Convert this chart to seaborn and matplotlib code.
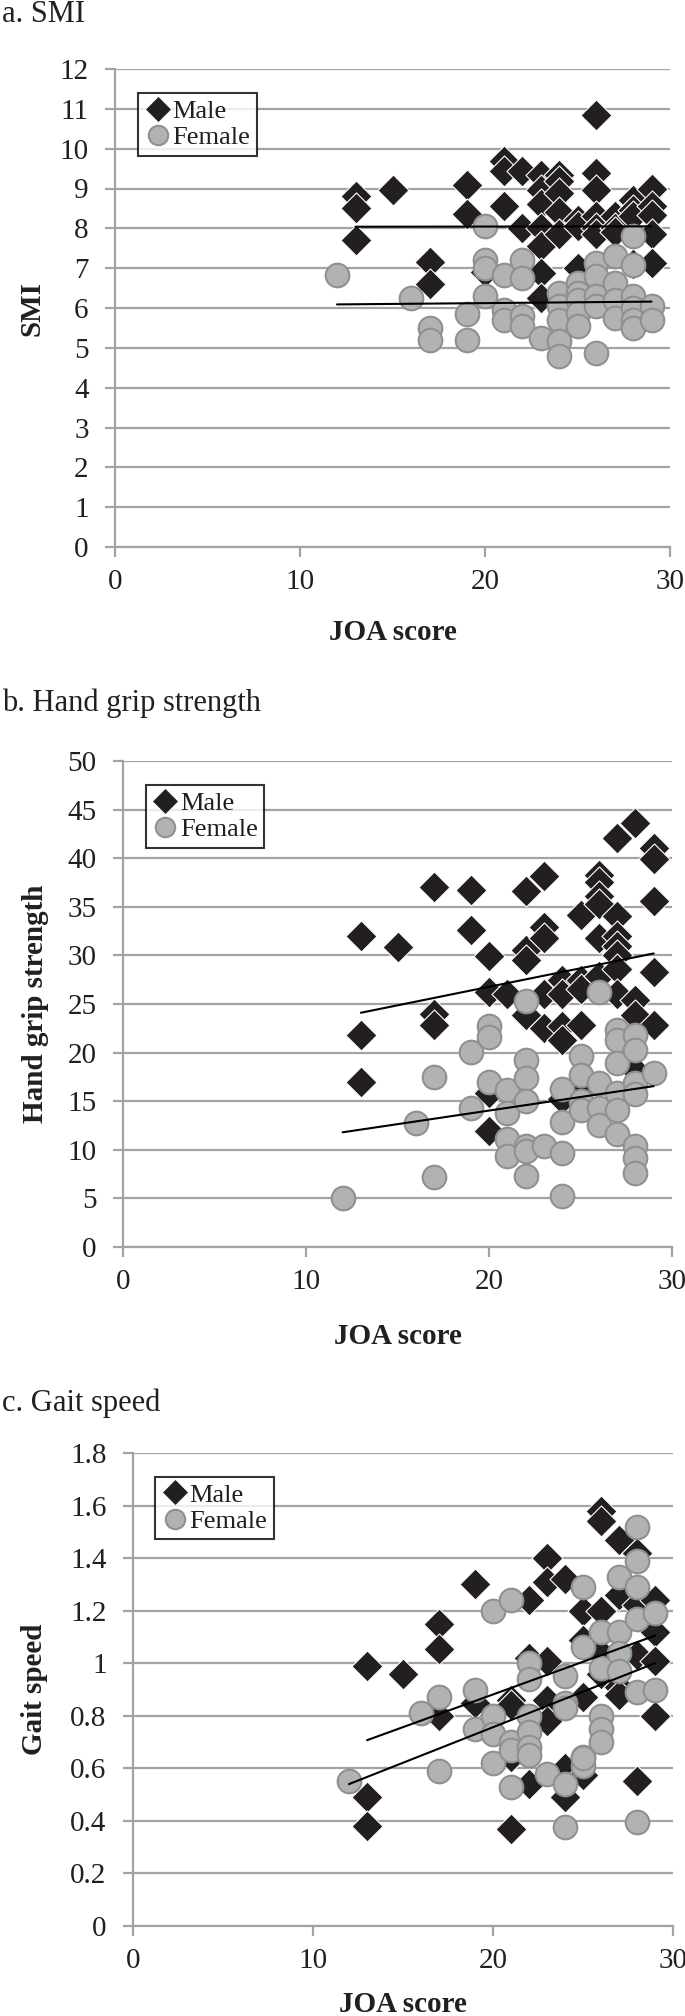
import numpy as np
import pandas as pd
import seaborn as sns
import matplotlib.pyplot as plt
from matplotlib.lines import Line2D

# ---- data (JOA score vs outcome, by sex) ----
# a. SMI
smi_male_joa = [13, 13, 13, 15, 17, 17, 19, 19, 20, 21, 21, 21, 22, 22,
                23, 23, 23, 23, 23, 23, 23, 24, 24, 24, 24, 24, 25, 25, 25,
                26, 26, 26, 26, 26, 26, 27, 27, 27, 28, 28, 28, 28,
                29, 29, 29, 29, 29]
smi_male = [8.8, 8.5, 7.7, 8.95, 7.15, 6.6, 9.1, 8.35, 6.9, 9.7, 9.45, 8.55, 9.45, 8.0,
            9.35, 8.95, 8.6, 8.0, 7.55, 6.88, 6.25, 9.35, 9.2, 8.88, 8.4, 7.85, 8.2, 8.05, 7.0,
            10.85, 9.4, 8.95, 8.3, 8.0, 7.85, 8.3, 8.0, 7.9, 8.7, 8.45, 8.3, 7.1,
            9.0, 8.55, 8.33, 7.85, 7.12]
smi_female_joa = [12, 16, 17, 17, 19, 19, 20, 20, 20, 20, 21, 21, 21, 22, 22, 22, 22,
                  23, 24, 24, 24, 24, 24, 25, 25, 25, 25, 25, 26, 26, 26, 26, 26,
                  27, 27, 27, 27, 28, 28, 28, 28, 28, 28, 29, 29]
smi_female = [6.82, 6.25, 5.5, 5.2, 5.86, 5.2, 8.06, 7.2, 7.0, 6.29, 6.83, 5.95, 5.7,
              7.2, 6.75, 5.8, 5.55, 5.25, 6.38, 6.04, 5.7, 5.17, 4.79,
              6.62, 6.38, 6.2, 5.88, 5.55, 7.12, 6.8, 6.3, 6.04, 4.87,
              7.3, 6.62, 6.2, 5.75, 7.8, 7.08, 6.3, 6.0, 5.7, 5.5, 6.04, 5.7]

# b. Hand grip strength
hgs_male_joa = [13, 13, 13, 15, 17, 17, 17, 19, 19, 20, 20, 20, 20, 21,
                22, 22, 22, 22, 23, 23, 23, 23, 23, 24, 24, 24, 24, 24,
                25, 25, 25, 25, 25, 26, 26, 26, 26, 26, 26,
                27, 27, 27, 27, 27, 27, 27, 28, 28, 28, 28, 29, 29, 29, 29, 29]
hgs_male = [32.0, 21.8, 17.0, 30.9, 37.0, 24.0, 22.8, 36.7, 32.6, 29.9, 26.2, 15.8, 11.9, 26.0,
            36.6, 30.6, 29.5, 23.9, 38.2, 32.9, 31.8, 26.0, 22.5, 27.5, 26.0, 22.7, 21.3, 15.2,
            34.2, 27.5, 26.5, 22.8, 16.3, 38.3, 37.6, 36.1, 35.3, 31.8, 27.9,
            42.1, 34.1, 32.0, 31.0, 30.0, 28.6, 26.0, 43.6, 25.4, 23.9, 18.2,
            41.0, 39.9, 35.6, 28.3, 22.8]
hgs_female_joa = [12, 16, 17, 17, 19, 19, 20, 20, 20, 21, 21, 21, 21,
                  22, 22, 22, 22, 22, 22, 22, 23, 24, 24, 24, 24, 25, 25, 25, 25,
                  26, 26, 26, 26, 27, 27, 27, 27, 27, 27, 28, 28, 28, 28, 28, 28, 28, 29]
hgs_female = [5.0, 12.8, 17.5, 7.2, 20.1, 14.3, 22.7, 21.6, 17.0, 16.2, 13.8, 11.1, 9.4,
              25.3, 19.2, 17.4, 15.0, 10.4, 9.9, 7.3, 10.4, 16.3, 12.9, 9.7, 5.2,
              19.6, 17.7, 15.0, 14.1, 26.2, 16.9, 14.3, 12.6,
              22.3, 21.3, 18.9, 15.8, 14.1, 11.6, 21.8, 20.3, 16.9, 15.7, 10.4, 9.2, 7.6, 17.9]

# c. Gait speed
gs_male_joa = [13, 13, 13, 15, 17, 17, 17, 19, 19, 21, 21, 21, 21, 22, 22, 22,
               23, 23, 23, 23, 23, 24, 24, 24, 25, 25, 25, 25, 26, 26, 26, 26, 26,
               27, 27, 27, 27, 28, 28, 28, 28, 29, 29, 29, 29]
gs_male = [0.99, 0.49, 0.38, 0.96, 1.15, 1.055, 0.80, 1.30, 0.85, 0.86, 0.84, 0.645, 0.37,
           1.24, 1.02, 0.54, 1.40, 1.31, 1.01, 0.86, 0.78, 1.32, 0.60, 0.49,
           1.20, 1.09, 0.87, 0.575, 1.58, 1.54, 1.20, 1.04, 0.96,
           1.47, 1.26, 0.91, 0.88, 1.42, 1.22, 1.03, 0.55, 1.24, 1.12, 1.01, 0.80]
gs_female_joa = [12, 16, 17, 17, 19, 19, 20, 20, 20, 20, 21, 21, 21, 21,
                 22, 22, 22, 22, 22, 22, 23, 24, 24, 24, 24, 24, 25, 25, 25, 25, 25,
                 26, 26, 26, 26, 26, 27, 27, 27, 27, 28, 28, 28, 28, 28, 28, 29, 29]
gs_female = [0.55, 0.81, 0.87, 0.59, 0.90, 0.75, 1.20, 0.80, 0.73, 0.62, 1.24, 0.70, 0.67, 0.53,
             1.0, 0.94, 0.80, 0.74, 0.68, 0.65, 0.58, 0.95, 0.85, 0.83, 0.54, 0.375,
             1.29, 1.06, 0.645, 0.61, 0.64, 1.12, 0.98, 0.80, 0.75, 0.70,
             1.33, 1.12, 1.04, 0.97, 1.52, 1.39, 1.29, 1.17, 0.89, 0.395, 1.19, 0.90]

# linear trend lines (end points)
trend_male_x = [13, 29]
trend_female_x = [12, 29]
smi_trend_male = [8.04, 8.05]
smi_trend_female = [6.09, 6.16]
hgs_trend_male = [24.1, 30.2]
hgs_trend_female = [11.8, 16.55]
gs_trend_male = [0.707, 1.105]
gs_trend_female = [0.54, 1.0]

titles = ["a. SMI", "b. Hand grip strength", "c. Gait speed"]
ylabels = ["SMI", "Hand grip strength", "Gait speed"]
yticks = [np.arange(0, 13, 1), np.arange(0, 51, 5), np.arange(0, 1.81, 0.2)]
yticklabels = [[str(v) for v in range(13)],
               [str(v) for v in range(0, 51, 5)],
               ["0", "0.2", "0.4", "0.6", "0.8", "1", "1.2", "1.4", "1.6", "1.8"]]

sns.set_theme(style="white")
plt.rcParams["font.family"] = ["Liberation Serif", "DejaVu Serif"]

MALE_C = "#231f20"
FEM_C = "#b1b2b4"
FEM_E = "#8f9092"
GRID_C = "#a3a3a3"

fig = plt.figure(figsize=(6.85, 20.16), dpi=100)
H = 2016.0
W = 685.0
# axes boxes in pixels: left, right, top, bottom
boxes = [(115, 670, 69, 547), (123, 672, 761, 1247), (133, 673, 1453, 1926)]
title_y = [15, 703, 1403]
xlabel_y = [633, 1336, 2005]
ylabel_x = [32, 36, 35]

panels = [
    (smi_male_joa, smi_male, smi_female_joa, smi_female, smi_trend_male, smi_trend_female),
    (hgs_male_joa, hgs_male, hgs_female_joa, hgs_female, hgs_trend_male, hgs_trend_female),
    (gs_male_joa, gs_male, gs_female_joa, gs_female, gs_trend_male, gs_trend_female),
]

for i, (mx, my, fx, fy, tm, tf) in enumerate(panels):
    l, r, t, b = boxes[i]
    ax = fig.add_axes([l / W, 1 - b / H, (r - l) / W, (b - t) / H])

    male = pd.DataFrame({"joa": mx, "val": my})
    female = pd.DataFrame({"joa": fx, "val": fy})

    sns.scatterplot(data=male, x="joa", y="val", marker="D", s=250, color=MALE_C,
                    edgecolor="white", linewidth=0.8, ax=ax, zorder=3, clip_on=False)
    sns.scatterplot(data=female, x="joa", y="val", marker="o", s=290, color=FEM_C,
                    edgecolor=FEM_E, linewidth=1.5, ax=ax, zorder=4, clip_on=False)
    sns.lineplot(x=trend_male_x, y=tm, color="black", lw=1.5, ax=ax, zorder=5)
    sns.lineplot(x=trend_female_x, y=tf, color="black", lw=1.5, ax=ax, zorder=5)

    ax.set_xlim(0, 30)
    ax.set_ylim(yticks[i][0], yticks[i][-1])
    ax.set_xticks([0, 10, 20, 30])
    ax.set_yticks(yticks[i])
    ax.set_yticklabels(yticklabels[i])
    ax.yaxis.grid(True, color=GRID_C, lw=1.6)
    ax.xaxis.grid(False)
    ax.set_axisbelow(True)
    for s in ["top", "right"]:
        ax.spines[s].set_visible(False)
    for s in ["left", "bottom"]:
        ax.spines[s].set_color(GRID_C)
        ax.spines[s].set_linewidth(1.6)
    ax.tick_params(axis="both", direction="out", length=7, width=1.6, color=GRID_C,
                   labelsize=21, labelcolor="#231f20", pad=12)
    ax.tick_params(axis="x", pad=9)
    ax.tick_params(bottom=True, left=True)

    ax.set_xlabel("")
    ax.set_ylabel(ylabels[i], fontsize=21, fontweight="bold", color="#231f20")
    ax.yaxis.set_label_coords((ylabel_x[i] - l) / (r - l), 0.5)
    ax.yaxis.label.set_va("center")

    fig.text(2 / W, 1 - title_y[i] / H, titles[i], fontsize=22, va="center", ha="left",
             color="#231f20")
    fig.text(((l + r) / 2) / W, 1 - xlabel_y[i] / H, "JOA score", fontsize=21,
             fontweight="bold", va="center", ha="center", color="#231f20")

    handles = [
        Line2D([], [], marker="D", ls="", color=MALE_C, markersize=13,
               markeredgecolor="white", markeredgewidth=0.5),
        Line2D([], [], marker="o", ls="", color=FEM_C, markersize=14,
               markeredgecolor=FEM_E, markeredgewidth=1.5),
    ]
    leg = ax.legend(handles, ["Male", "Female"], loc="upper left",
                    bbox_to_anchor=(0.041, 0.95), fontsize=19, frameon=True,
                    fancybox=False, edgecolor="black", borderpad=0.25,
                    labelspacing=0.1, handletextpad=0.05, handlelength=1.0,
                    borderaxespad=0)
    leg.get_frame().set_linewidth(1.5)
    for txt in leg.get_texts():
        txt.set_color("#231f20")

fig.savefig("out.png", dpi=100)
